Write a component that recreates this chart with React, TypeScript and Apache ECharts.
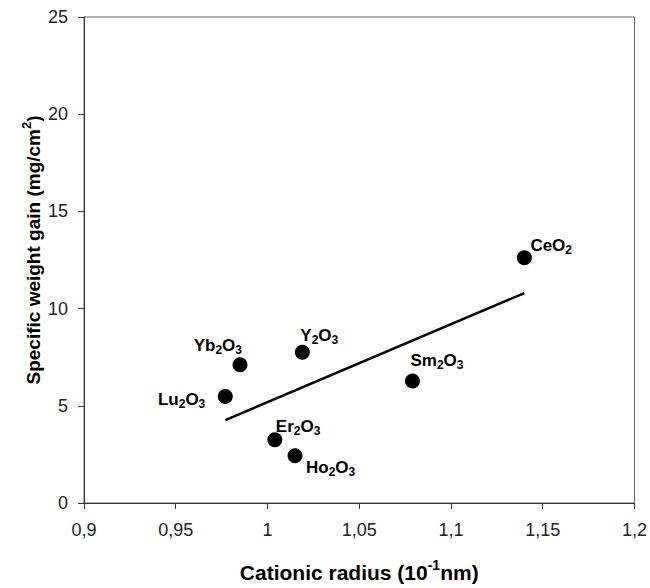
import React, { useEffect, useRef } from "react";
import * as echarts from "echarts";

// Data
const compounds = ["Lu", "Yb", "Er", "Ho", "Y", "Sm", "Ce"];
const labelMain = ["Lu", "Yb", "Er", "Ho", "Y", "Sm", "Ce"];
const labelSub1 = ["2", "2", "2", "2", "2", "2", ""];
const labelSub2 = ["3", "3", "3", "3", "3", "3", "2"];
const radius = [0.977, 0.985, 1.004, 1.015, 1.019, 1.079, 1.14];
const weightGain = [5.48, 7.11, 3.25, 2.43, 7.75, 6.27, 12.61];
const fitX = [0.977, 1.14];
const fitY = [4.26, 10.8];
const xTicks = [0.9, 0.95, 1, 1.05, 1.1, 1.15, 1.2];
const yTicks = [0, 5, 10, 15, 20, 25];

// label placement (style, not data)
const labelPlace: Record<string, { align: string; dx: number; dy: number }> = {
  Lu: { align: "right", dx: -20, dy: 3 },
  Yb: { align: "right", dx: 2, dy: -19 },
  Er: { align: "left", dx: 1, dy: -13 },
  Ho: { align: "left", dx: 11, dy: 12 },
  Y: { align: "left", dx: -2, dy: -17 },
  Sm: { align: "left", dx: -2, dy: -21 },
  Ce: { align: "left", dx: 6, dy: -12 },
};

const FONT = "'Liberation Sans', Arial, sans-serif";

export default function App() {
  const ref = useRef<HTMLDivElement>(null);
  useEffect(() => {
    if (!ref.current) return;
    const chart = echarts.init(ref.current, null, { renderer: "svg" });

    const scatterData = compounds.map((c, i) => {
      const p = labelPlace[c];
      const sub1 = labelSub1[i] ? `{s|${labelSub1[i]}}` : "";
      const text = `{a|${labelMain[i]}}${sub1}{a|O}{s|${labelSub2[i]}}`;
      return {
        value: [radius[i], weightGain[i]],
        label: {
          show: true,
          position: "inside",
          align: p.align,
          verticalAlign: "middle",
          offset: [p.dx, p.dy],
          formatter: text,
        },
      };
    });

    const labelRich = {
      a: {
        fontFamily: FONT,
        fontSize: 17,
        fontWeight: "bold",
        color: "#000",
        lineHeight: 17,
        verticalAlign: "top",
      },
      s: {
        fontFamily: FONT,
        fontSize: 12,
        fontWeight: "bold",
        color: "#000",
        lineHeight: 12,
        padding: [7, 0, 0, 0],
        verticalAlign: "top",
      },
    };

    const makeTitleRich = (size: number) => ({
      t: {
        fontFamily: FONT,
        fontSize: size,
        fontWeight: "bold",
        fill: "#000",
        color: "#000",
        lineHeight: size + 4,
        verticalAlign: "bottom",
      },
      u: {
        fontFamily: FONT,
        fontSize: Math.round(size * 0.66),
        fontWeight: "bold",
        fill: "#000",
        color: "#000",
        lineHeight: Math.round(size * 0.66),
        verticalAlign: "top",
      },
    });

    chart.setOption({
      animation: false,
      backgroundColor: "#fff",
      grid: {
        left: 84,
        right: 15,
        top: 17,
        bottom: 74,
        show: true,
        borderColor: "#666",
        borderWidth: 1,
      },
      graphic: [
        {
          type: "text",
          x: 31,
          y: 250,
          rotation: Math.PI / 2,
          style: {
            text: "{t|Specific weight gain (mg/cm}{u|2}{t|)}",
            rich: makeTitleRich(19),
            align: "center",
            verticalAlign: "middle",
          },
        },
      ],
      xAxis: {
        type: "value",
        min: xTicks[0],
        max: xTicks[xTicks.length - 1],
        interval: 0.05,
        name: "{t|Cationic radius (10}{u|-1}{t|nm)}",
        nameLocation: "middle",
        nameGap: 55,
        nameTextStyle: { rich: makeTitleRich(21) },
        axisLine: { lineStyle: { color: "#333", width: 1 } },
        axisTick: { show: true, length: 6, inside: false, lineStyle: { color: "#333" } },
        splitLine: { show: false },
        axisLabel: {
          margin: 18,
          fontFamily: FONT,
          fontSize: 18,
          color: "#222",
          formatter: (v: number) => String(Math.round(v * 100) / 100).replace(".", ","),
        },
      },
      yAxis: {
        type: "value",
        min: yTicks[0],
        max: yTicks[yTicks.length - 1],
        interval: 5,
        axisLine: { show: true, lineStyle: { color: "#333", width: 1 } },
        axisTick: { show: true, length: 6, inside: false, lineStyle: { color: "#333" } },
        splitLine: { show: false },
        axisLabel: {
          margin: 16,
          fontFamily: FONT,
          fontSize: 18,
          color: "#222",
        },
      },
      series: [
        {
          type: "line",
          data: fitX.map((x, i) => [x, fitY[i]]),
          symbol: "none",
          lineStyle: { color: "#000", width: 2.5 },
          z: 2,
        },
        {
          type: "scatter",
          data: scatterData,
          symbol: "circle",
          symbolSize: 15,
          itemStyle: { color: "#000", opacity: 1 },
          label: { rich: labelRich },
          z: 3,
        },
      ],
    });
    return () => chart.dispose();
  }, []);

  return (
    <div
      ref={ref}
      style={{ position: "fixed", left: 0, top: 0, width: 650, height: 588, background: "#fff" }}
    />
  );
}
